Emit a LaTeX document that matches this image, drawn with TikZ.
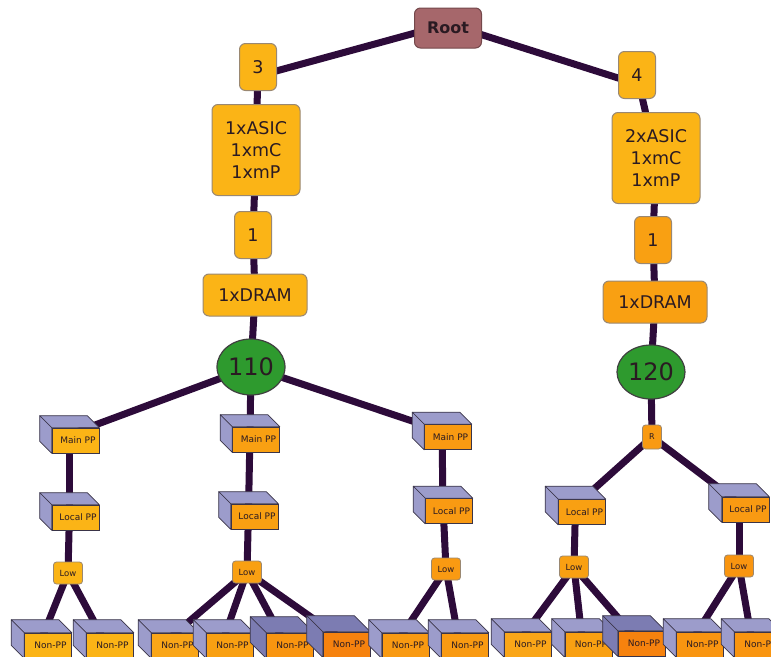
\documentclass[tikz,border=0pt]{standalone}
\usepackage{fontspec}
\setmainfont{DejaVu Sans}
\usetikzlibrary{shapes.geometric}
\pgfdeclarelayer{background}
\pgfsetlayers{background,main}
\definecolor{amber}{HTML}{FBB416}
\definecolor{orng}{HTML}{F9A012}
\definecolor{orngB}{HTML}{F99A12}
\definecolor{orngC}{HTML}{F99510}
\definecolor{orngD}{HTML}{F6820E}
\definecolor{orngL}{HTML}{FAA618}
\definecolor{rootc}{HTML}{A6676B}
\definecolor{greenc}{HTML}{2E9A2E}
\definecolor{lav}{HTML}{9C9CCB}
\definecolor{lavD}{HTML}{7C7CB2}
\definecolor{linkc}{HTML}{2D0B3A}
\definecolor{rimc}{HTML}{9A8872}
\definecolor{cubec}{HTML}{3A3448}
\definecolor{txtc}{HTML}{2A1A22}
\tikzset{
  link/.style={draw=linkc, line width=7pt, line cap=round},
  rbox/.style={draw=rimc, line width=1pt, rounded corners=6pt, inner sep=0pt, align=center, text=txtc, font=\fontsize{17.5}{22}\selectfont},
  rootbox/.style={rbox, fill=rootc, draw=rootc!70!black, font=\fontsize{16}{19}\selectfont\bfseries, minimum width=67pt, minimum height=40pt},
  numbox/.style={rbox, minimum width=37pt, minimum height=47pt},
  asicbox/.style={rbox, minimum width=88pt, minimum height=91pt},
  drambox/.style={rbox, minimum width=104pt, minimum height=42pt},
  oval/.style={ellipse, draw=black!75, line width=1.2pt, fill=greenc, text=txtc, inner sep=0pt, minimum width=68pt, minimum height=56pt, font=\fontsize{24}{28}\selectfont},
  lowbox/.style={draw=rimc, line width=0.8pt, rounded corners=3pt, inner sep=0pt, minimum width=29pt, minimum height=22pt, text=txtc, font=\fontsize{8.5}{10}\selectfont},
  rbx/.style={lowbox, minimum width=19pt, minimum height=24pt, font=\fontsize{8}{9}\selectfont},
  cubefront/.style={draw=cubec, line width=0.6pt, inner sep=0pt, minimum width=47pt, minimum height=25pt, text=txtc, font=\fontsize{9}{10}\selectfont},
  cubeside/.style={draw=cubec, line width=0.6pt, line join=round}
}
\newcommand\ppbox[7]{%
  \node[cubefront, fill=#5] (#1) at (#2,#3) {\raisebox{-2pt}{\hspace*{5pt}#7}};
  \filldraw[cubeside, fill=#6] (#1.north west) -- ([shift={(-#4pt,#4pt)}]#1.north west) -- ([shift={(-#4pt,#4pt)}]#1.north east) -- (#1.north east) -- cycle;
  \filldraw[cubeside, fill=#6] (#1.north west) -- ([shift={(-#4pt,#4pt)}]#1.north west) -- ([shift={(-#4pt,#4pt)}]#1.south west) -- (#1.south west) -- cycle;
  \coordinate (#1c) at ([shift={(-0.5*#4pt,0.5*#4pt)}]#1.center);
}
\begin{document}
\begin{tikzpicture}[x=1pt,y=-1pt]
\useasboundingbox (0,0) rectangle (771,656);
% upper nodes
\node[rootbox] (root) at (448,28) {Root};
\node[numbox, fill=amber] (n3) at (258,67) {3};
\node[asicbox, fill=amber] (asic1) at (256,150) {1xASIC\\1xmC\\1xmP};
\node[numbox, fill=amber] (one1) at (253,235) {1};
\node[drambox, fill=amber] (dram1) at (255,295) {1xDRAM};
\node[oval] (e110) at (251,367) {110};
\node[numbox, fill=amber] (n4) at (637,75) {4};
\node[asicbox, fill=amber] (asic2) at (656,158) {2xASIC\\1xmC\\1xmP};
\node[numbox, fill=orng] (one2) at (653,240) {1};
\node[drambox, fill=orng] (dram2) at (655,302) {1xDRAM};
\node[oval, minimum height=54pt] (e120) at (651,372) {120};
\node[rbx, fill=orngB] (r) at (652,437) {R};
% left tree
\ppbox{mp1}{75.5}{440.5}{12}{amber}{lav}{Main PP}
\ppbox{lp1}{75.5}{517.5}{12}{amber}{lav}{Local PP}
\node[lowbox, fill=amber] (low1) at (68,573) {Low};
\ppbox{np1}{48}{645.5}{13}{amber}{lav}{Non-PP}
\ppbox{np2}{110}{645.5}{13}{amber}{lav}{Non-PP}
% middle tree
\ppbox{mp2}{256}{439.5}{12}{orng}{lav}{Main PP}
\ppbox{lp2}{254.5}{516.5}{12}{orng}{lav}{Local PP}
\node[lowbox, fill=orng] (low2) at (247,572) {Low};
\ppbox{npa}{175}{645.5}{13}{orngL}{lav}{Non-PP}
\ppbox{npb}{230}{645.5}{13}{orng}{lav}{Non-PP}
\ppbox{npc}{290}{645.5}{16}{orngC}{lavD}{Non-PP}
\ppbox{npd}{346.5}{644.5}{16}{orngD}{lavD}{Non-PP}
% right part of left tree
\ppbox{mp3}{448}{437}{12}{orngB}{lav}{Main PP}
\ppbox{lp3}{449}{511}{12}{orngB}{lav}{Local PP}
\node[lowbox, fill=orngB] (low3) at (446,569) {Low};
\ppbox{npe}{405.5}{645.5}{13}{orngB}{lav}{Non-PP}
\ppbox{npf}{465}{645.5}{13}{orngB}{lav}{Non-PP}
% right tree
\ppbox{lp4}{582}{512}{13}{orng}{lav}{Local PP}
\ppbox{lp5}{745.5}{509.5}{13}{orngB}{lav}{Local PP}
\node[lowbox, fill=orng] (low4) at (574,567) {Low};
\node[lowbox, fill=orngC] (low5) at (739,566) {Low};
\ppbox{npg}{528}{644.5}{13}{orngL}{lav}{Non-PP}
\ppbox{nph}{588.5}{644.5}{13}{orng}{lav}{Non-PP}
\ppbox{npi}{641.5}{643.5}{15}{orngD}{lavD}{Non-PP}
\ppbox{npj}{700}{644.5}{13}{orngC}{lav}{Non-PP}
\ppbox{npk}{758}{644.5}{13}{orngC}{lav}{Non-PP}
% connectors
\begin{pgfonlayer}{background}
\draw[link] ([yshift=4pt]root.center) -- ([yshift=-9pt]n3.center);
\draw[link] ([yshift=4pt]root.center) -- ([yshift=-9pt]n4.center);
\draw[link] (n3) -- (asic1);
\draw[link] (asic1) -- (one1);
\draw[link] (one1) -- (dram1);
\draw[link] (dram1) -- (e110);
\draw[link] (e110.center) -- (mp1c);
\draw[link] (e110.center) -- (mp2c);
\draw[link] (e110.center) -- (mp3c);
\draw[link] (mp1c) -- (lp1c);
\draw[link] (lp1c) -- (low1.center);
\draw[link] (low1.center) -- (np1c);
\draw[link] (low1.center) -- (np2c);
\draw[link] (mp2c) -- (lp2c);
\draw[link] (lp2c) -- (low2.center);
\draw[link] (low2.center) -- (npac);
\draw[link] (low2.center) -- (npbc);
\draw[link] (low2.center) -- (npcc);
\draw[link] (low2.center) -- (npdc);
\draw[link] (mp3c) -- (lp3c);
\draw[link] (lp3c) -- (low3.center);
\draw[link] (low3.center) -- (npec);
\draw[link] (low3.center) -- (npfc);
\draw[link] (n4) -- (asic2);
\draw[link] (asic2) -- (one2);
\draw[link] (one2) -- (dram2);
\draw[link] (dram2) -- (e120);
\draw[link] (e120.center) -- (r.center);
\draw[link] (r.center) -- (lp4c);
\draw[link] (r.center) -- (lp5c);
\draw[link] (lp4c) -- (low4.center);
\draw[link] (lp5c) -- (low5.center);
\draw[link] (low4.center) -- (npgc);
\draw[link] (low4.center) -- (nphc);
\draw[link] (low4.center) -- (npic);
\draw[link] (low5.center) -- (npjc);
\draw[link] (low5.center) -- (npkc);
\end{pgfonlayer}
\end{tikzpicture}
\end{document}
